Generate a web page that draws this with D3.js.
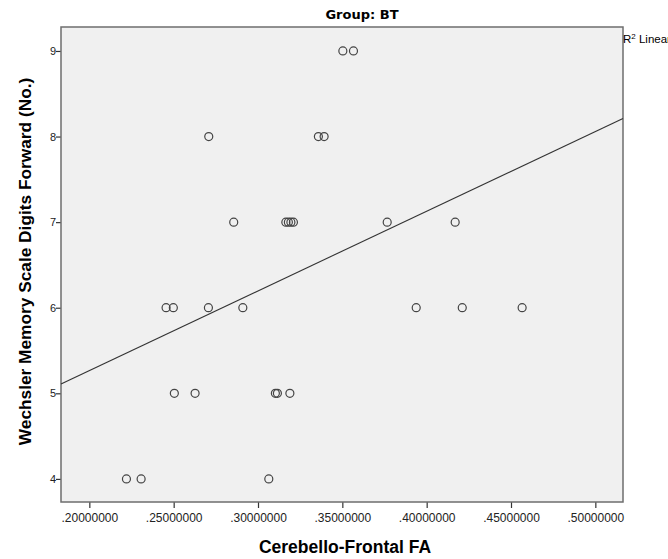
<!DOCTYPE html>
<html>
<head>
<meta charset="utf-8">
<script src="https://cdn.jsdelivr.net/npm/d3@7"></script>
<style>
  body { margin: 0; background: #fff; overflow: hidden; }
  svg { font-family: "Liberation Sans", Arial, sans-serif; }
</style>
</head>
<body>
<svg id="chart" width="668" height="559"></svg>
<script>
// Data ----------------------------------------------------------------------------

var faValues = [0.3503, 0.3566,
    0.2708, 0.3358, 0.3392,
    0.2856, 0.3165, 0.3180, 0.3195, 0.3210, 0.3766, 0.4169,
    0.2455, 0.2498, 0.2706, 0.2910, 0.3938, 0.4211, 0.4566,
    0.2504, 0.2627, 0.3103, 0.3115, 0.3189,
    0.2220, 0.2307, 0.3064];
var digitsForward = [9, 9,
    8, 8, 8,
    7, 7, 7, 7, 7, 7, 7,
    6, 6, 6, 6, 6, 6, 6,
    5, 5, 5, 5, 5,
    4, 4, 4];

// fit line (ends at the frame edges)
var fitX = [0.1832, 0.5164];
var fitY = [5.11, 8.21];

var xTicks = [0.20, 0.25, 0.30, 0.35, 0.40, 0.45, 0.50];
var yTicks = [4, 5, 6, 7, 8, 9];

// Chart ---------------------------------------------------------------------------

var svg = d3.select("#chart");
var plotLeft = 61, plotRight = 623, plotTop = 27, plotBottom = 502;

var x = d3.scaleLinear().domain([0.1832, 0.5164]).range([plotLeft, plotRight]);
var y = d3.scaleLinear().domain([3.73, 9.28]).range([plotBottom, plotTop]);

// plot background
svg.append("rect")
    .attr("x", plotLeft).attr("y", plotTop)
    .attr("width", plotRight - plotLeft).attr("height", plotBottom - plotTop)
    .attr("fill", "#f0f0f0");

// axes
var xAxis = svg.append("g")
    .attr("transform", "translate(0," + plotBottom + ")")
    .call(d3.axisBottom(x).tickValues(xTicks).tickSize(6).tickSizeOuter(0)
        .tickFormat(function (d) { return d3.format(".8f")(d).replace(/^0/, ""); }));

var yAxis = svg.append("g")
    .attr("transform", "translate(" + plotLeft + ",0)")
    .call(d3.axisLeft(y).tickValues(yTicks).tickSize(5).tickSizeOuter(0)
        .tickFormat(d3.format("d")));

[xAxis, yAxis].forEach(function (g) {
    g.select(".domain").remove();
    g.selectAll(".tick line").attr("stroke", "#333").attr("stroke-width", 1.2);
    g.selectAll(".tick text").attr("fill", "#222")
        .style("font-family", "Liberation Sans, Arial, sans-serif");
});
xAxis.selectAll(".tick text").attr("dy", "0.95em").style("font-size", "12px");
yAxis.selectAll(".tick text").attr("x", -5).style("font-size", "11px");

// frame
svg.append("rect")
    .attr("x", plotLeft).attr("y", plotTop)
    .attr("width", plotRight - plotLeft).attr("height", plotBottom - plotTop)
    .attr("fill", "none")
    .attr("stroke", "#6e6e6e")
    .attr("stroke-width", 1.5);

// fit line
svg.append("line")
    .attr("x1", x(fitX[0])).attr("y1", y(fitY[0]))
    .attr("x2", x(fitX[1])).attr("y2", y(fitY[1]))
    .attr("stroke", "#333")
    .attr("stroke-width", 1.1);

// points
svg.append("g")
    .selectAll("circle")
    .data(faValues)
    .enter()
    .append("circle")
    .attr("cx", function (d) { return x(d); })
    .attr("cy", function (d, i) { return y(digitsForward[i]); })
    .attr("r", 4)
    .attr("fill", "none")
    .attr("stroke", "#444")
    .attr("stroke-width", 1.2);

// titles
svg.append("text")
    .attr("x", 362).attr("y", 19)
    .attr("text-anchor", "middle")
    .style("font-family", "DejaVu Sans, sans-serif")
    .style("font-size", "13px").style("font-weight", "bold")
    .text("Group: BT");

var r2 = svg.append("text")
    .attr("x", plotRight).attr("y", 43)
    .style("font-size", "11.5px");
r2.append("tspan").text("R");
r2.append("tspan").attr("dy", -4.5).style("font-size", "8px").text("2");
r2.append("tspan").attr("dy", 4.5).text(" Linear");

svg.append("text")
    .attr("x", 345).attr("y", 552.5)
    .attr("text-anchor", "middle")
    .style("font-size", "17.5px").style("font-weight", "bold")
    .text("Cerebello-Frontal FA");

svg.append("text")
    .attr("transform", "translate(30.5,261.5) rotate(-90)")
    .attr("text-anchor", "middle")
    .style("font-size", "17.3px").style("font-weight", "bold")
    .text("Wechsler Memory Scale Digits Forward (No.)");
</script>
</body>
</html>
